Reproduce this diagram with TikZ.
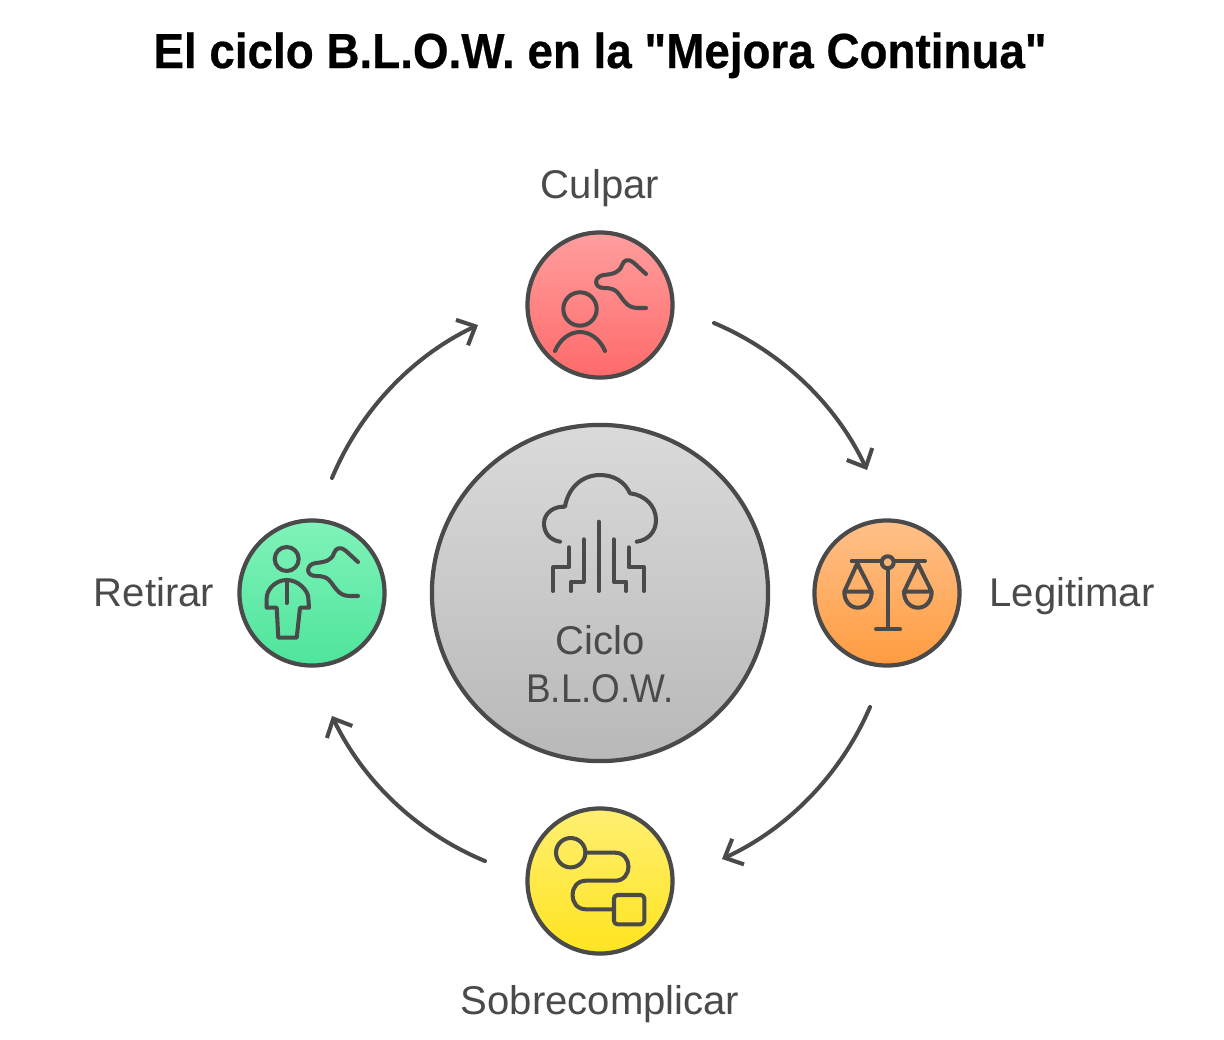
\documentclass[tikz,border=0pt]{standalone}
\usepackage{fontspec}
\setmainfont[Ligatures=TeXOff,BoldFeatures={FakeBold=0.5}]{Liberation Sans}
\usetikzlibrary{arrows.meta}
\definecolor{inkgray}{HTML}{4A4A4A}
\definecolor{redtop}{HTML}{FF9E9E}
\definecolor{redbot}{HTML}{FF6A6A}
\definecolor{orangetop}{HTML}{FFC08A}
\definecolor{orangebot}{HTML}{FF9C40}
\definecolor{yellowtop}{HTML}{FFEF72}
\definecolor{yellowbot}{HTML}{FFE41E}
\definecolor{greentop}{HTML}{80F3BA}
\definecolor{greenbot}{HTML}{4EE49B}
\definecolor{graytop}{HTML}{DADADA}
\definecolor{graybot}{HTML}{B8B8B8}
\begin{document}
\begin{tikzpicture}[x=0.01cm,y=-0.01cm,>={Straight Barb[length=4.2pt,width=8pt,line width=1.15pt]},line join=round,line cap=round,
	hub/.style={circle,draw=inkgray,line width=1.2pt,inner sep=0pt,minimum size=1.45cm},
	icon/.style={draw=inkgray,line width=1.15pt},
	flow/.style={->,draw=inkgray,line width=1.15pt,bend left=21,looseness=0.88},
	lab/.style={text=inkgray,font=\fontsize{11.4}{13}\selectfont,inner sep=0pt,anchor=base}]
	\useasboundingbox (0,0) rectangle (1224,1039);
	\node[font=\fontsize{14}{16}\selectfont\bfseries,inner sep=0pt,anchor=base,xscale=0.93] (title) at (600,68) {El ciclo B.L.O.W. en la "Mejora Continua"};
	% circles
	\node[hub,minimum size=3.36cm,top color=graytop,bottom color=graybot] (ciclo) at (600,593) {};
	\node[hub,top color=redtop,bottom color=redbot] (culpar) at (600,305) {};
	\node[hub,top color=orangetop,bottom color=orangebot] (legitimar) at (887,593) {};
	\node[hub,top color=yellowtop,bottom color=yellowbot] (sobre) at (600,881) {};
	\node[hub,top color=greentop,bottom color=greenbot] (retirar) at (312,593) {};
	% labels
	\node[lab] (lculpar) at (600,198) {Culpar};
	\node[lab] (llegitimar) at (1072,606) {Legitimar};
	\node[lab] (lsobre) at (600,1014) {Sobrecomplicar};
	\node[lab] (lretirar) at (154,606) {Retirar};
	\node[lab] (lciclo) at (600,654) {Ciclo};
	\node[lab,xscale=0.92] (lblow) at (600,702) {B.L.O.W.};
	% arrows
	\path (714,323)coordinate(a1) (867,470)coordinate(b1)
	(870,707)coordinate(a2) (722,859)coordinate(b2)
	(485,861)coordinate(a3) (332,716)coordinate(b3)
	(332,478)coordinate(a4) (478,325)coordinate(b4);
	\draw[flow] (a1) to (b1);
	\draw[flow] (a2) to (b2);
	\draw[flow] (a3) to (b3);
	\draw[flow] (a4) to (b4);
	% cloud
	\draw[icon] (560,541.7) .. controls (550,540) and (544,533) .. (544,523.3) .. controls (544,513) and (554,506) .. (565,506.7) .. controls (568,488) and (582,475) .. (600,475) .. controls (614,475) and (625,482) .. (630,493.3) .. controls (645,495) and (656,506) .. (656,520) .. controls (656,532) and (648,540) .. (636.7,541.7);
	\draw[icon] (598.7,521.7)--(598.7,591);
	\draw[icon] (583.7,539.3)--(583.7,581.7)--(571,581.7)--(571,591);
	\draw[icon] (569,547.3)--(569,567.3)--(553.3,567.3)--(553.3,591);
	\draw[icon] (613.7,539.3)--(613.7,581.7)--(626.3,581.7)--(626.3,591);
	\draw[icon] (628.7,547.3)--(628.7,567.3)--(644,567.3)--(644,591);
	% culpar
	\draw[icon] (580,309) circle (16.7);
	\draw[icon] (555,351) .. controls (560,339) and (570,332) .. (580,332) .. controls (590,332) and (600,339) .. (605,351);
	\draw[icon] (646,274) -- (634,263) .. controls (628,258) and (624,260) .. (622,265) .. controls (620,272) and (614,274) .. (604,275) .. controls (594,276) and (593,288) .. (604,288) .. controls (618,288) and (618,294) .. (624,301) .. controls (628,306) and (632,308) .. (638,308) -- (646,308);
	% retirar
	\draw[icon] (286.7,559) circle (12);
	\draw[icon] (286.7,580) .. controls (275,580) and (266.7,590) .. (266.7,598)--(266.7,607.7)--(276.7,607.7)--(278.3,637.7)--(296.7,637.7)--(300,607.7)--(309,607.7)--(308.3,598) .. controls (308,590) and (298,580) .. (286.7,580)--cycle;
	\draw[icon] (286.7,580)--(286.7,603);
	\draw[icon] (358,562) -- (346,551) .. controls (340,546) and (336,548) .. (334,553) .. controls (332,560) and (326,562) .. (316,563) .. controls (306,564) and (305,576) .. (316,576) .. controls (330,576) and (330,582) .. (336,589) .. controls (340,594) and (344,596) .. (350,596) -- (358,596);
	% legitimar
	\draw[icon] (851.7,561)--(881.7,561) (893.7,561)--(925,561);
	\draw[icon] (887.7,562.3) circle (6);
	\draw[icon] (887.7,568.3)--(887.7,629) (876,629)--(900,629);
	\draw[icon] (844.3,591.7)--(857.3,563.3)--(871.7,591.7) (844.3,591.7)--(871.7,591.7) (844.3,591.7) .. controls (844.3,601) and (850,607.7) .. (858,607.7) .. controls (866,607.7) and (871.7,601) .. (871.7,591.7);
	\draw[icon] (904,591.7)--(917.7,563.3)--(931.7,591.7) (904,591.7)--(931.7,591.7) (904,591.7) .. controls (904,601) and (910,607.7) .. (918,607.7) .. controls (926,607.7) and (931.7,601) .. (931.7,591.7);
	% sobrecomplicar
	\draw[icon] (570.7,852.7) circle (14.7);
	\draw[icon] (585.4,852.7)--(615,852.7) .. controls (633,852.7) and (633,880.7) .. (615,880.7)--(586,880.7) .. controls (568,880.7) and (568,909.3) .. (586,909.3)--(614,909.3);
	\draw[icon,rounded corners=1pt] (614,895) rectangle (644.3,924.3);
\end{tikzpicture}
\end{document}
